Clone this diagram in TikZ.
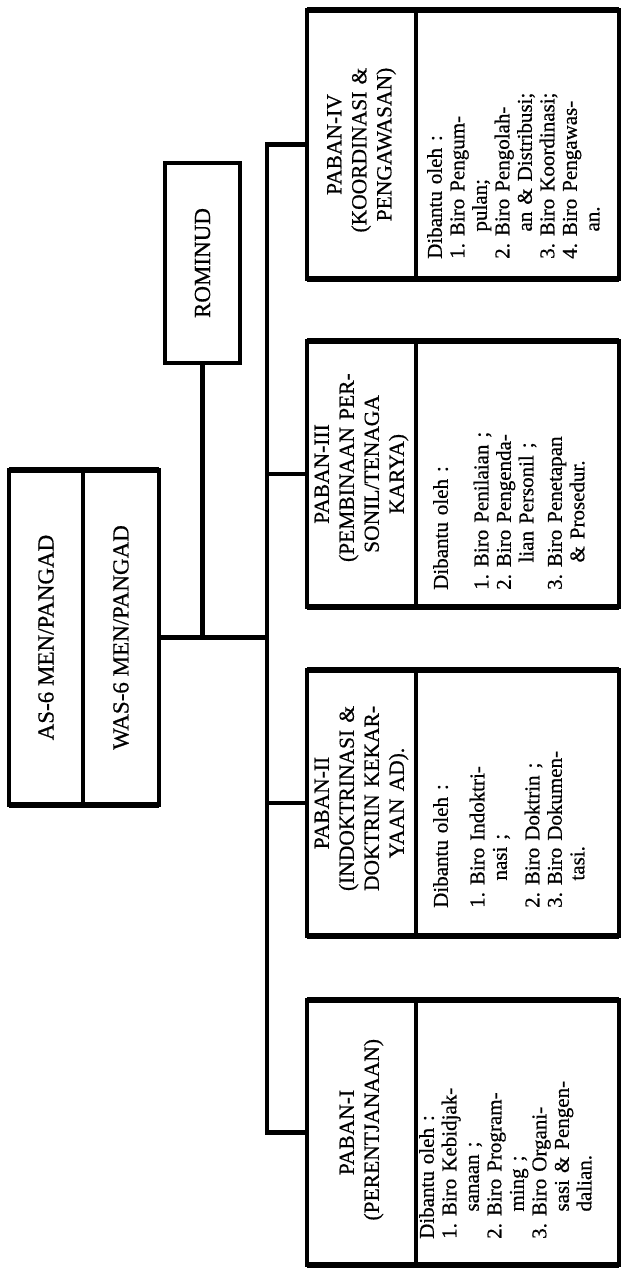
\documentclass[tikz,border=0pt]{standalone}
\usepackage{fontspec}
\setmainfont{Liberation Serif}[FakeBold=0.6]
\usetikzlibrary{positioning, calc}

\newcommand{\spreadline}[1]{\makebox[\linewidth][s]{#1}}
\newcommand{\hangline}[1]{\hspace*{1.3em}#1}
\newcommand{\hangspread}[1]{\hspace*{1.3em}\makebox[\dimexpr\linewidth-1.3em\relax][s]{#1}}

\begin{document}
\begin{tikzpicture}[x=1pt, y=-1pt,
  orgbox/.style={draw, line width=4.2pt, inner sep=0pt, outer sep=0pt},
  rimline/.style={line width=6pt},
  conn/.style={line width=4.5pt},
  boxlabel/.style={rotate=90, inner sep=0pt, font=\fontsize{23}{26}\selectfont},
  pabtitle/.style={rotate=90, inner sep=0pt, text width=176pt, align=center, font=\fontsize{21.5}{25}\selectfont},
  biro/.style={rotate=90, anchor=north west, inner sep=0pt, text width=200pt, align=left, font=\fontsize{21}{22.5}\selectfont}
]
\useasboundingbox (0,0) rectangle (621,1270);

% pimpinan dan staf
\node[orgbox, line width=4.8pt, minimum width=75pt, minimum height=200pt] (rominud) at (202.5,263) {};
\node[boxlabel] at (rominud) {ROMINUD};

\node[orgbox, minimum width=74pt, minimum height=335pt] (as6) at (46,637.5) {};
\node[orgbox, minimum width=76pt, minimum height=335pt] (was6) at (121,637.5) {};
\node[boxlabel] at (as6) {AS-6 MEN/PANGAD};
\node[boxlabel] at (was6) {WAS-6 MEN/PANGAD};
\draw[rimline] (as6.north west) -- (was6.north east);
\draw[rimline] (as6.south west) -- (was6.south east);

% paban
\node[orgbox, minimum width=312pt, minimum height=269pt] (p4) at (463,144.5) {};
\node[orgbox, minimum width=312pt, minimum height=266pt] (p3) at (463,474) {};
\node[orgbox, minimum width=312pt, minimum height=266pt] (p2) at (463,803) {};
\node[orgbox, minimum width=312pt, minimum height=265pt] (p1) at (463,1132.5) {};
\foreach \p in {p1,p2,p3,p4} {
  \draw[rimline] (\p.north west) -- (\p.north east);
  \draw[rimline] (\p.south west) -- (\p.south east);
  \draw[line width=4.2pt] ($(\p.north west)+(109,0)$) -- ($(\p.south west)+(109,0)$);
}

% judul paban
\node[pabtitle] (t4) at ($(p4.west)+(54.5,0)$) {PABAN-IV\\\spreadline{(KOORDINASI \&}\\PENGAWASAN)};
\node[pabtitle] (t3) at ($(p3.west)+(54.5,0)$) {PABAN-III\\\spreadline{(PEMBINAAN PER-}\\SONIL/TENAGA\\KARYA)};
\node[pabtitle] (t2) at ($(p2.west)+(54.5,0)$) {PABAN-II\\\spreadline{(INDOKTRINASI \&}\\\spreadline{DOKTRIN KEKAR-}\\YAAN AD).};
\node[pabtitle] (t1) at ($(p1.west)+(54.5,0)$) {PABAN-I\\(PERENTJANAAN)};

% biro-biro
\node[biro] (b4) at ($(p4.south west)+(120,-20)$) {Dibantu oleh :\\
  \spreadline{1.\ Biro Pengum-}\\\hangline{pulan;}\\
  \spreadline{2.\ Biro Pengolah-}\\\hangspread{an \& Distribusi;}\\
  \spreadline{3.\ Biro Koordinasi;}\\
  \spreadline{4.\ Biro Pengawas-}\\\hangline{an.}};
\node[biro] (b3) at ($(p3.south west)+(126,-17)$) {Dibantu oleh :\\[18pt]
  \spreadline{1.\ Biro Penilaian ;}\\
  \spreadline{2.\ Biro Pengenda-}\\\hangspread{lian Personil ;}\\[6pt]
  \spreadline{3.\ Biro Penetapan}\\\hangline{\& Prosedur.}};
\node[biro, text width=178pt] (b2) at ($(p2.south west)+(126,-28)$) {Dibantu oleh :\\[14pt]
  \spreadline{1.\ Biro Indoktri-}\\\hangline{nasi ;}\\[10pt]
  \spreadline{2.\ Biro Doktrin ;}\\
  \spreadline{3.\ Biro Dokumen-}\\\hangline{tasi.}};
\node[biro] (b1) at ($(p1.south west)+(112,-26)$) {Dibantu oleh :\\
  \spreadline{1.\ Biro Kebidjak-}\\\hangline{sanaan ;}\\
  \spreadline{2.\ Biro Program-}\\\hangline{ming ;}\\
  \spreadline{3.\ Biro Organi-}\\\hangspread{sasi \& Pengen-}\\\hangline{dalian.}};

% garis komando
\coordinate (busEnd) at (267,1132.5);
\draw[conn] (p4.west) -- (p4.west -| busEnd) -- (busEnd) -- (p1.west);
\draw[conn] (p3.west -| busEnd) -- (p3.west);
\draw[conn] (p2.west -| busEnd) -- (p2.west);
\draw[conn] (rominud.south) -- (rominud.south |- was6.east);
\draw[conn] (was6.east) -- (was6.east -| busEnd);
\end{tikzpicture}
\end{document}
